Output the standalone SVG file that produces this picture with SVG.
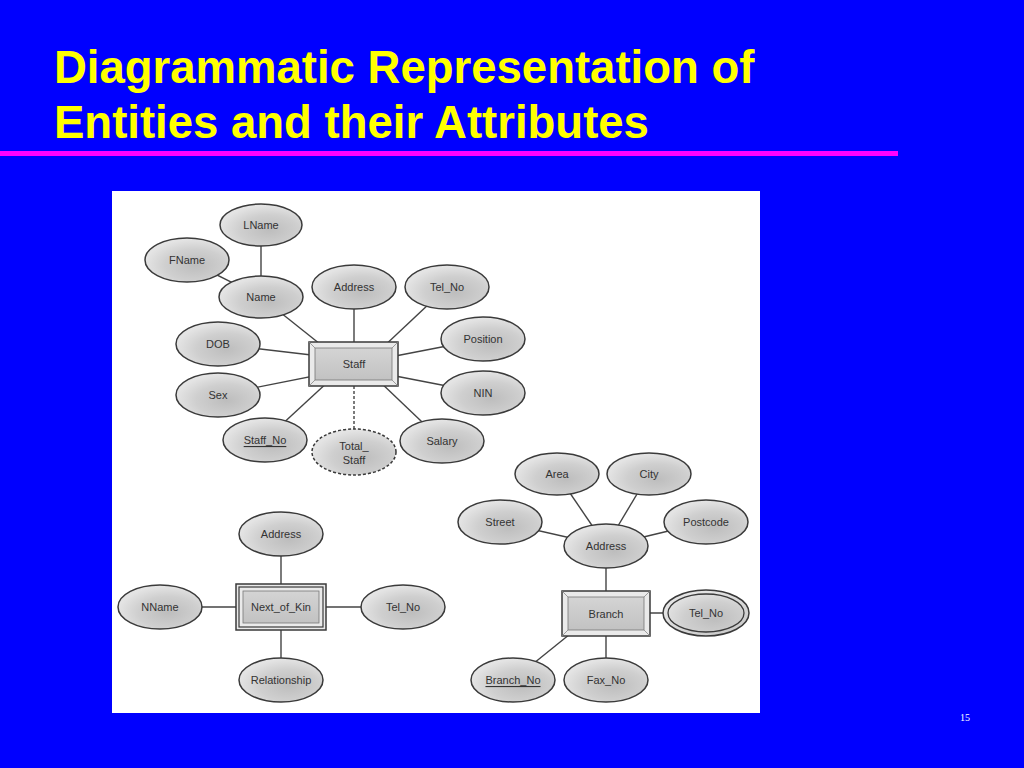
<svg xmlns="http://www.w3.org/2000/svg" width="1024" height="768" viewBox="0 0 1024 768">
<defs>
<radialGradient id="eg" cx="0.6" cy="0.62" r="0.6">
<stop offset="0" stop-color="#bdbdbd"/>
<stop offset="0.6" stop-color="#cfcfcf"/>
<stop offset="1" stop-color="#e4e4e4"/>
</radialGradient>
<linearGradient id="bg" x1="0" y1="0" x2="0" y2="1">
<stop offset="0" stop-color="#d4d4d4"/>
<stop offset="1" stop-color="#c2c2c2"/>
</linearGradient>
</defs>
<style>
.t{font-family:"Liberation Sans",Arial,sans-serif;font-size:11px;fill:#333;text-anchor:middle;dominant-baseline:central}
.e{fill:url(#eg);stroke:#3a3a3a;stroke-width:1.5}
.c line{stroke:#444;stroke-width:1.4}
.bo{fill:#eaeaea;stroke:#3a3a3a;stroke-width:1.5}
.bi{fill:url(#bg);stroke:#777;stroke-width:0.8}
.bv{stroke:#888;stroke-width:0.8}
.title{font-family:"Liberation Sans",Arial,sans-serif;font-size:45.5px;font-weight:bold;fill:#ffff00}
</style>
<rect x="0" y="0" width="1024" height="768" fill="#0000ff"/>
<text class="title" x="54" y="83">Diagrammatic Representation of</text>
<text class="title" x="54" y="138">Entities and their Attributes</text>
<rect x="0" y="151" width="898" height="5" fill="#ff00ff"/>
<rect x="112" y="191" width="648" height="522" fill="#ffffff"/>
<text x="965" y="721" font-family="Liberation Serif,serif" font-size="10" fill="#ffffff" text-anchor="middle">15</text>

<g class="c" id="connectors">
<line x1="261" y1="225" x2="261" y2="297"/>
<line x1="187" y1="260" x2="261" y2="297"/>
<line x1="261" y1="297" x2="330" y2="352"/>
<line x1="354" y1="287" x2="354" y2="364"/>
<line x1="447" y1="287" x2="380" y2="350"/>
<line x1="483" y1="339" x2="354" y2="364"/>
<line x1="218" y1="344" x2="354" y2="360"/>
<line x1="218" y1="395" x2="354" y2="368"/>
<line x1="483" y1="393" x2="354" y2="368"/>
<line x1="265" y1="440" x2="330" y2="380"/>
<line x1="442" y1="441" x2="378" y2="380"/>
<line x1="354" y1="386" x2="354" y2="430" stroke-dasharray="3,2"/>
<line x1="557" y1="474" x2="606" y2="546"/>
<line x1="649" y1="474" x2="606" y2="546"/>
<line x1="500" y1="522" x2="606" y2="546"/>
<line x1="706" y1="522" x2="606" y2="546"/>
<line x1="606" y1="546" x2="606" y2="613"/>
<line x1="606" y1="613" x2="706" y2="613"/>
<line x1="513" y1="680" x2="575" y2="630"/>
<line x1="606" y1="613" x2="606" y2="680"/>
<line x1="281" y1="534" x2="281" y2="680"/>
<line x1="160" y1="607" x2="403" y2="607"/>
</g>

<g id="staff-lname"><ellipse class="e" cx="261" cy="225" rx="41" ry="21"/><text class="t" x="261" y="225">LName</text></g>
<g id="staff-fname"><ellipse class="e" cx="187" cy="260" rx="42" ry="22"/><text class="t" x="187" y="260">FName</text></g>
<g id="staff-name"><ellipse class="e" cx="261" cy="297" rx="42" ry="21"/><text class="t" x="261" y="297">Name</text></g>
<g id="staff-address"><ellipse class="e" cx="354" cy="287" rx="42" ry="22"/><text class="t" x="354" y="287">Address</text></g>
<g id="staff-telno"><ellipse class="e" cx="447" cy="287" rx="42" ry="22"/><text class="t" x="447" y="287">Tel_No</text></g>
<g id="staff-position"><ellipse class="e" cx="483" cy="339" rx="42" ry="22"/><text class="t" x="483" y="339">Position</text></g>
<g id="staff-dob"><ellipse class="e" cx="218" cy="344" rx="42" ry="22"/><text class="t" x="218" y="344">DOB</text></g>
<g id="staff-sex"><ellipse class="e" cx="218" cy="395" rx="42" ry="22"/><text class="t" x="218" y="395">Sex</text></g>
<g id="staff-nin"><ellipse class="e" cx="483" cy="393" rx="42" ry="22"/><text class="t" x="483" y="393">NIN</text></g>
<g id="staff-staffno"><ellipse class="e" cx="265" cy="440" rx="42" ry="22"/><text class="t" x="265" y="440" text-decoration="underline">Staff_No</text></g>
<g id="staff-total"><ellipse class="e" cx="354" cy="452" rx="42" ry="23" stroke-dasharray="3,2"/><text class="t" x="354" y="446">Total_</text><text class="t" x="354" y="460">Staff</text></g>
<g id="staff-salary"><ellipse class="e" cx="442" cy="441" rx="42" ry="22"/><text class="t" x="442" y="441">Salary</text></g>
<g id="staff">
<rect class="bo" x="309" y="342" width="89" height="44"/>
<rect class="bi" x="315" y="348" width="77" height="32"/>
<line class="bv" x1="309" y1="342" x2="315" y2="348"/><line class="bv" x1="398" y1="342" x2="392" y2="348"/>
<line class="bv" x1="309" y1="386" x2="315" y2="380"/><line class="bv" x1="398" y1="386" x2="392" y2="380"/>
<text class="t" x="354" y="364">Staff</text></g>

<g id="branch-area"><ellipse class="e" cx="557" cy="474" rx="42" ry="21"/><text class="t" x="557" y="474">Area</text></g>
<g id="branch-city"><ellipse class="e" cx="649" cy="474" rx="42" ry="21"/><text class="t" x="649" y="474">City</text></g>
<g id="branch-street"><ellipse class="e" cx="500" cy="522" rx="42" ry="22"/><text class="t" x="500" y="522">Street</text></g>
<g id="branch-postcode"><ellipse class="e" cx="706" cy="522" rx="42" ry="22"/><text class="t" x="706" y="522">Postcode</text></g>
<g id="branch-address"><ellipse class="e" cx="606" cy="546" rx="42" ry="22"/><text class="t" x="606" y="546">Address</text></g>
<g id="branch-telno"><ellipse class="e" cx="706" cy="613" rx="43" ry="23"/><ellipse cx="706" cy="613" rx="38" ry="19" fill="none" stroke="#3a3a3a" stroke-width="1.3"/><text class="t" x="706" y="613">Tel_No</text></g>
<g id="branch-branchno"><ellipse class="e" cx="513" cy="680" rx="42" ry="22"/><text class="t" x="513" y="680" text-decoration="underline">Branch_No</text></g>
<g id="branch-faxno"><ellipse class="e" cx="606" cy="680" rx="42" ry="22"/><text class="t" x="606" y="680">Fax_No</text></g>
<g id="branch">
<rect class="bo" x="562" y="591" width="88" height="45"/>
<rect class="bi" x="568" y="597" width="76" height="33"/>
<line class="bv" x1="562" y1="591" x2="568" y2="597"/><line class="bv" x1="650" y1="591" x2="644" y2="597"/>
<line class="bv" x1="562" y1="636" x2="568" y2="630"/><line class="bv" x1="650" y1="636" x2="644" y2="630"/>
<text class="t" x="606" y="614">Branch</text></g>

<g id="nok-address"><ellipse class="e" cx="281" cy="534" rx="42" ry="22"/><text class="t" x="281" y="534">Address</text></g>
<g id="nok-nname"><ellipse class="e" cx="160" cy="607" rx="42" ry="22"/><text class="t" x="160" y="607">NName</text></g>
<g id="nok-telno"><ellipse class="e" cx="403" cy="607" rx="42" ry="22"/><text class="t" x="403" y="607">Tel_No</text></g>
<g id="nok-relationship"><ellipse class="e" cx="281" cy="680" rx="42" ry="22"/><text class="t" x="281" y="680">Relationship</text></g>
<g id="next-of-kin">
<rect class="bo" x="236" y="584" width="90" height="46"/>
<rect x="239" y="587" width="84" height="40" fill="none" stroke="#3a3a3a" stroke-width="1.2"/>
<rect class="bi" x="243" y="591" width="76" height="32"/>
<text class="t" x="281" y="607">Next_of_Kin</text></g>
</svg>
